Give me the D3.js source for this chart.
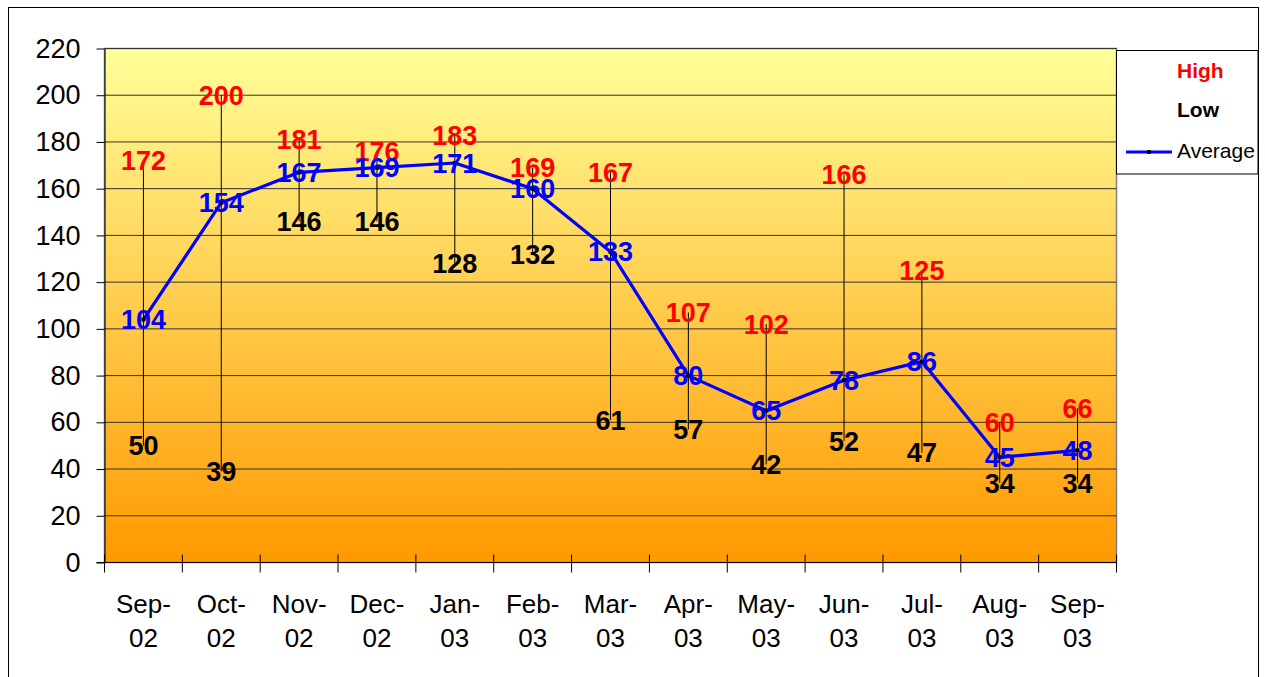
<!DOCTYPE html>
<html>
<head>
<meta charset="utf-8">
<script src="https://cdn.jsdelivr.net/npm/d3@7"></script>
<style>
  html, body { margin: 0; padding: 0; background: #fff; }
  svg { display: block; font-family: Arial, "Liberation Sans", sans-serif; }
</style>
</head>
<body>
<svg id="chart" width="1265" height="677"></svg>
<script>
// Monthly high / low / average, Sep-02 .. Sep-03
const months = ["Sep-02", "Oct-02", "Nov-02", "Dec-02", "Jan-03", "Feb-03", "Mar-03",
  "Apr-03", "May-03", "Jun-03", "Jul-03", "Aug-03", "Sep-03"];
const highs = [172, 200, 181, 176, 183, 169, 167, 107, 102, 166, 125, 60, 66];
const lows = [50, 39, 146, 146, 128, 132, 61, 57, 42, 52, 47, 34, 34];
const averages = [104, 154, 167, 169, 171, 160, 133, 80, 65, 78, 86, 45, 48];
const yTicks = [0, 20, 40, 60, 80, 100, 120, 140, 160, 180, 200, 220];
const legendItems = ["High", "Low", "Average"];

const W = 1265, H = 677;
const plot = { left: 104.5, top: 48.5, right: 1116.5, bottom: 562.5 };

const svg = d3.select("#chart");

// outer frame (bottom runs off the picture)
svg.append("rect")
  .attr("x", 8.5).attr("y", 7.5)
  .attr("width", 1250).attr("height", 700)
  .attr("fill", "#fff").attr("stroke", "#000").attr("stroke-width", 1);

const x = d3.scaleBand().domain(months).range([plot.left, plot.right]).padding(0);
const y = d3.scaleLinear().domain([0, 220]).range([plot.bottom, plot.top]);
const cx = (i) => x(months[i]) + x.bandwidth() / 2;

// background gradient
const defs = svg.append("defs");
const grad = defs.append("linearGradient")
  .attr("id", "bg").attr("x1", 0).attr("y1", 0).attr("x2", 0).attr("y2", 1);
grad.append("stop").attr("offset", "0%").attr("stop-color", "#FFFF99");
grad.append("stop").attr("offset", "100%").attr("stop-color", "#FF9900");

svg.append("rect")
  .attr("x", plot.left).attr("y", plot.top)
  .attr("width", plot.right - plot.left).attr("height", plot.bottom - plot.top)
  .attr("fill", "url(#bg)")
  .attr("stroke", "#808080").attr("stroke-width", 1.5);

// horizontal gridlines
svg.append("g")
  .selectAll("line")
  .data(yTicks.filter((v) => v > 0))
  .join("line")
  .attr("x1", plot.left).attr("x2", plot.right)
  .attr("y1", (d) => y(d)).attr("y2", (d) => y(d))
  .attr("stroke", "#333").attr("stroke-width", 1);

// y axis
const yAxis = d3.axisLeft(y).tickValues(yTicks).tickSize(8).tickPadding(16).tickSizeOuter(0);
const gy = svg.append("g").attr("transform", `translate(${plot.left},0)`).call(yAxis);
gy.select(".domain").attr("stroke", "#000");
gy.selectAll(".tick line").attr("stroke", "#000");
gy.selectAll("text").attr("font-size", 27).attr("fill", "#000")
  .attr("font-family", "Arial, 'Liberation Sans', sans-serif");

// x axis: ticks on band edges, crossing the axis line
const gx = svg.append("g");
gx.append("line")
  .attr("x1", plot.left - 8).attr("x2", plot.right)
  .attr("y1", plot.bottom).attr("y2", plot.bottom)
  .attr("stroke", "#000").attr("stroke-width", 1.2);
const edges = months.map((m) => x(m)).concat([plot.right]);
gx.selectAll("line.tick")
  .data(edges)
  .join("line")
  .attr("class", "tick")
  .attr("x1", (d) => d).attr("x2", (d) => d)
  .attr("y1", plot.bottom - 8).attr("y2", plot.bottom + 10)
  .attr("stroke", "#000");
const xl = gx.selectAll("text.lab")
  .data(months)
  .join("text")
  .attr("class", "lab")
  .attr("text-anchor", "middle")
  .attr("font-size", 26)
  .attr("fill", "#000");
xl.append("tspan").attr("x", (d) => x(d) + x.bandwidth() / 2).attr("y", 613)
  .text((d) => d.split("-")[0] + "-");
xl.append("tspan").attr("x", (d) => x(d) + x.bandwidth() / 2).attr("y", 647)
  .text((d) => d.split("-")[1]);

// high-low lines
svg.append("g")
  .selectAll("line")
  .data(months)
  .join("line")
  .attr("x1", (d, i) => cx(i)).attr("x2", (d, i) => cx(i))
  .attr("y1", (d, i) => y(highs[i])).attr("y2", (d, i) => y(lows[i]))
  .attr("stroke", "#000").attr("stroke-width", 1);

// average line
const line = d3.line().x((d, i) => cx(i)).y((d) => y(d));
svg.append("path")
  .datum(averages)
  .attr("d", line)
  .attr("fill", "none")
  .attr("stroke", "#0000FF")
  .attr("stroke-width", 3.2)
  .attr("stroke-linejoin", "round");

svg.append("g")
  .selectAll("rect")
  .data(averages)
  .join("rect")
  .attr("x", (d, i) => cx(i) - 2).attr("y", (d) => y(d) - 2)
  .attr("width", 4).attr("height", 4)
  .attr("fill", "#000");

// data labels
function labels(values, color) {
  svg.append("g")
    .selectAll("text")
    .data(values)
    .join("text")
    .attr("x", (d, i) => cx(i))
    .attr("y", (d) => y(d))
    .attr("dy", "0.36em")
    .attr("text-anchor", "middle")
    .attr("font-size", 27)
    .attr("font-weight", "bold")
    .attr("fill", color)
    .text((d) => d);
}
labels(highs, "#FF0000");
labels(lows, "#000");
labels(averages, "#0000FF");

// legend
const lg = svg.append("g");
lg.append("rect")
  .attr("x", 1116.5).attr("y", 50.5).attr("width", 141.5).attr("height", 123.5)
  .attr("fill", "#fff").attr("stroke", "#000").attr("stroke-width", 1);
const legendY = [78, 117, 158];
const legendColors = ["#FF0000", "#000", "#000"];
lg.selectAll("text")
  .data(legendItems)
  .join("text")
  .attr("x", 1177)
  .attr("y", (d, i) => legendY[i])
  .attr("font-size", 21)
  .attr("font-weight", (d, i) => (i < 2 ? "bold" : "normal"))
  .attr("fill", (d, i) => legendColors[i])
  .text((d) => d);
lg.append("line")
  .attr("x1", 1126).attr("x2", 1172).attr("y1", 152).attr("y2", 152)
  .attr("stroke", "#0000FF").attr("stroke-width", 3.2);
lg.append("rect")
  .attr("x", 1147).attr("y", 150).attr("width", 4).attr("height", 4).attr("fill", "#000");
</script>
</body>
</html>
